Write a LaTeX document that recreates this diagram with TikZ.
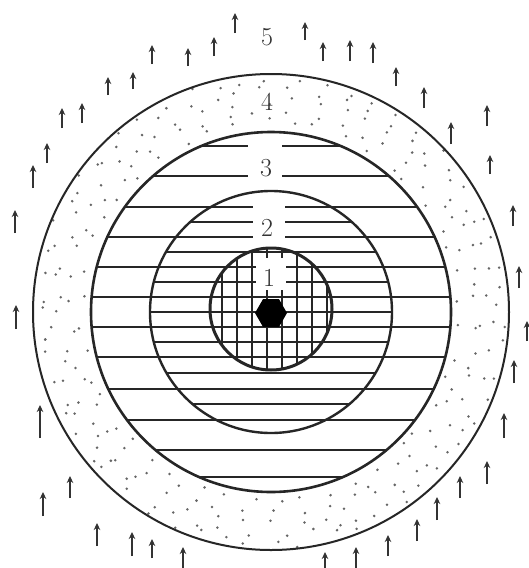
\documentclass[tikz,border=0pt]{standalone}
\usetikzlibrary{arrows.meta,shapes.geometric}
\begin{document}
\begin{tikzpicture}[x=1pt,y=-1pt,
  ring/.style={draw=black!85, line width=2pt},
  hatch/.style={draw=black!85, line width=2.7pt},
  arr/.style={draw=black!80, line width=1.2pt, -{Stealth[length=7pt,width=6.5pt]}},
  lab/.style={font=\fontsize{26}{26}\selectfont, text=black!80, inner sep=0pt},
  mask/.style={fill=white, draw=none, inner sep=0pt},
  speck/.style={fill=black!60}]
\useasboundingbox (0,0) rectangle (529,568);
\fill[white] (0,0) rectangle (529,568);
\coordinate (c) at (271,312);
\coordinate (c1) at (271,309);
% stippling of zone 4
\pgfmathsetseed{11}
\foreach \r/\n in {190/44, 201/47, 212/49, 223/52, 232/54}{
  \foreach \j in {1,...,\n}{
    \pgfmathsetmacro\ang{(\j+0.15+0.7*rnd)/\n*360+\r}
    \pgfmathsetmacro\rad{\r+(rnd-0.5)*9}
    \fill[speck, shift={(c)}] (\ang:\rad) circle[radius=1.4];
  }
}
% zone 3 hatching
\begin{scope}
  \clip (c) circle[radius=180];
  \foreach \y in {146,176,207,237,267,297,327,357,389,420,450,477}
    \draw[hatch] (80,\y) -- (470,\y);
\end{scope}
% zone 2 extra hatching
\begin{scope}
  \clip (c) circle[radius=121];
  \foreach \y in {222,252,282,312,342,373,404}
    \draw[hatch] (140,\y) -- (400,\y);
\end{scope}
% zone 1 grid
\begin{scope}
  \clip (c1) circle[radius=61];
  \foreach \x in {222,237,...,327}
    \draw[hatch, line width=2.3pt] (\x,240) -- (\x,380);
\end{scope}
% label masks
\node[mask, minimum width=34pt, minimum height=42pt] (m3) at (265,161) {};
\node[mask, minimum width=32pt, minimum height=44pt] (m2) at (269,225) {};
\node[mask, minimum width=30pt, minimum height=32pt] (m1) at (271,274) {};
% circles
\draw[ring] (c) circle[radius=238];
\draw[ring, line width=2.6pt] (c) circle[radius=180];
\draw[ring, line width=2.4pt] (c) circle[radius=121];
\draw[ring, line width=3pt] (c1) circle[radius=61];
% core
\node[regular polygon, regular polygon sides=6, fill=black, minimum size=32pt, inner sep=0pt] (core) at (271,313) {};
% labels
\node[lab] (l5) at (267,37) {5};
\node[lab] (l4) at (267,102) {4};
\node[lab] (l3) at (266,168) {3};
\node[lab] (l2) at (267,228) {2};
\node[lab] (l1) at (269,278) {1};
% arrows of zone 5
\foreach \x/\a/\b in {235/13/33, 214/37/56, 188/48/66, 152/45/64, 133/72/89, 108/77/95,
  82/103/123, 62/108/128, 47/143/163, 33/165/188, 305/22/40, 323/42/61, 350/40/61,
  373/42/63, 396/67/86, 424/87/108, 487/105/126, 451/122/144, 490/155/174,
  15/210/233, 16/305/329, 40/405/438, 513/205/226, 519/266/288, 527/321/341,
  514/360/383, 504/413/438, 70/476/498, 43/492/516, 97/523/546, 132/532/556,
  152/539/558, 183/547/568, 325/552/569, 356/547/569, 388/535/556, 417/519/541,
  437/497/520, 460/476/498, 487/461/484}
  \draw[arr] (\x,\b) -- (\x,\a);
\end{tikzpicture}
\end{document}
